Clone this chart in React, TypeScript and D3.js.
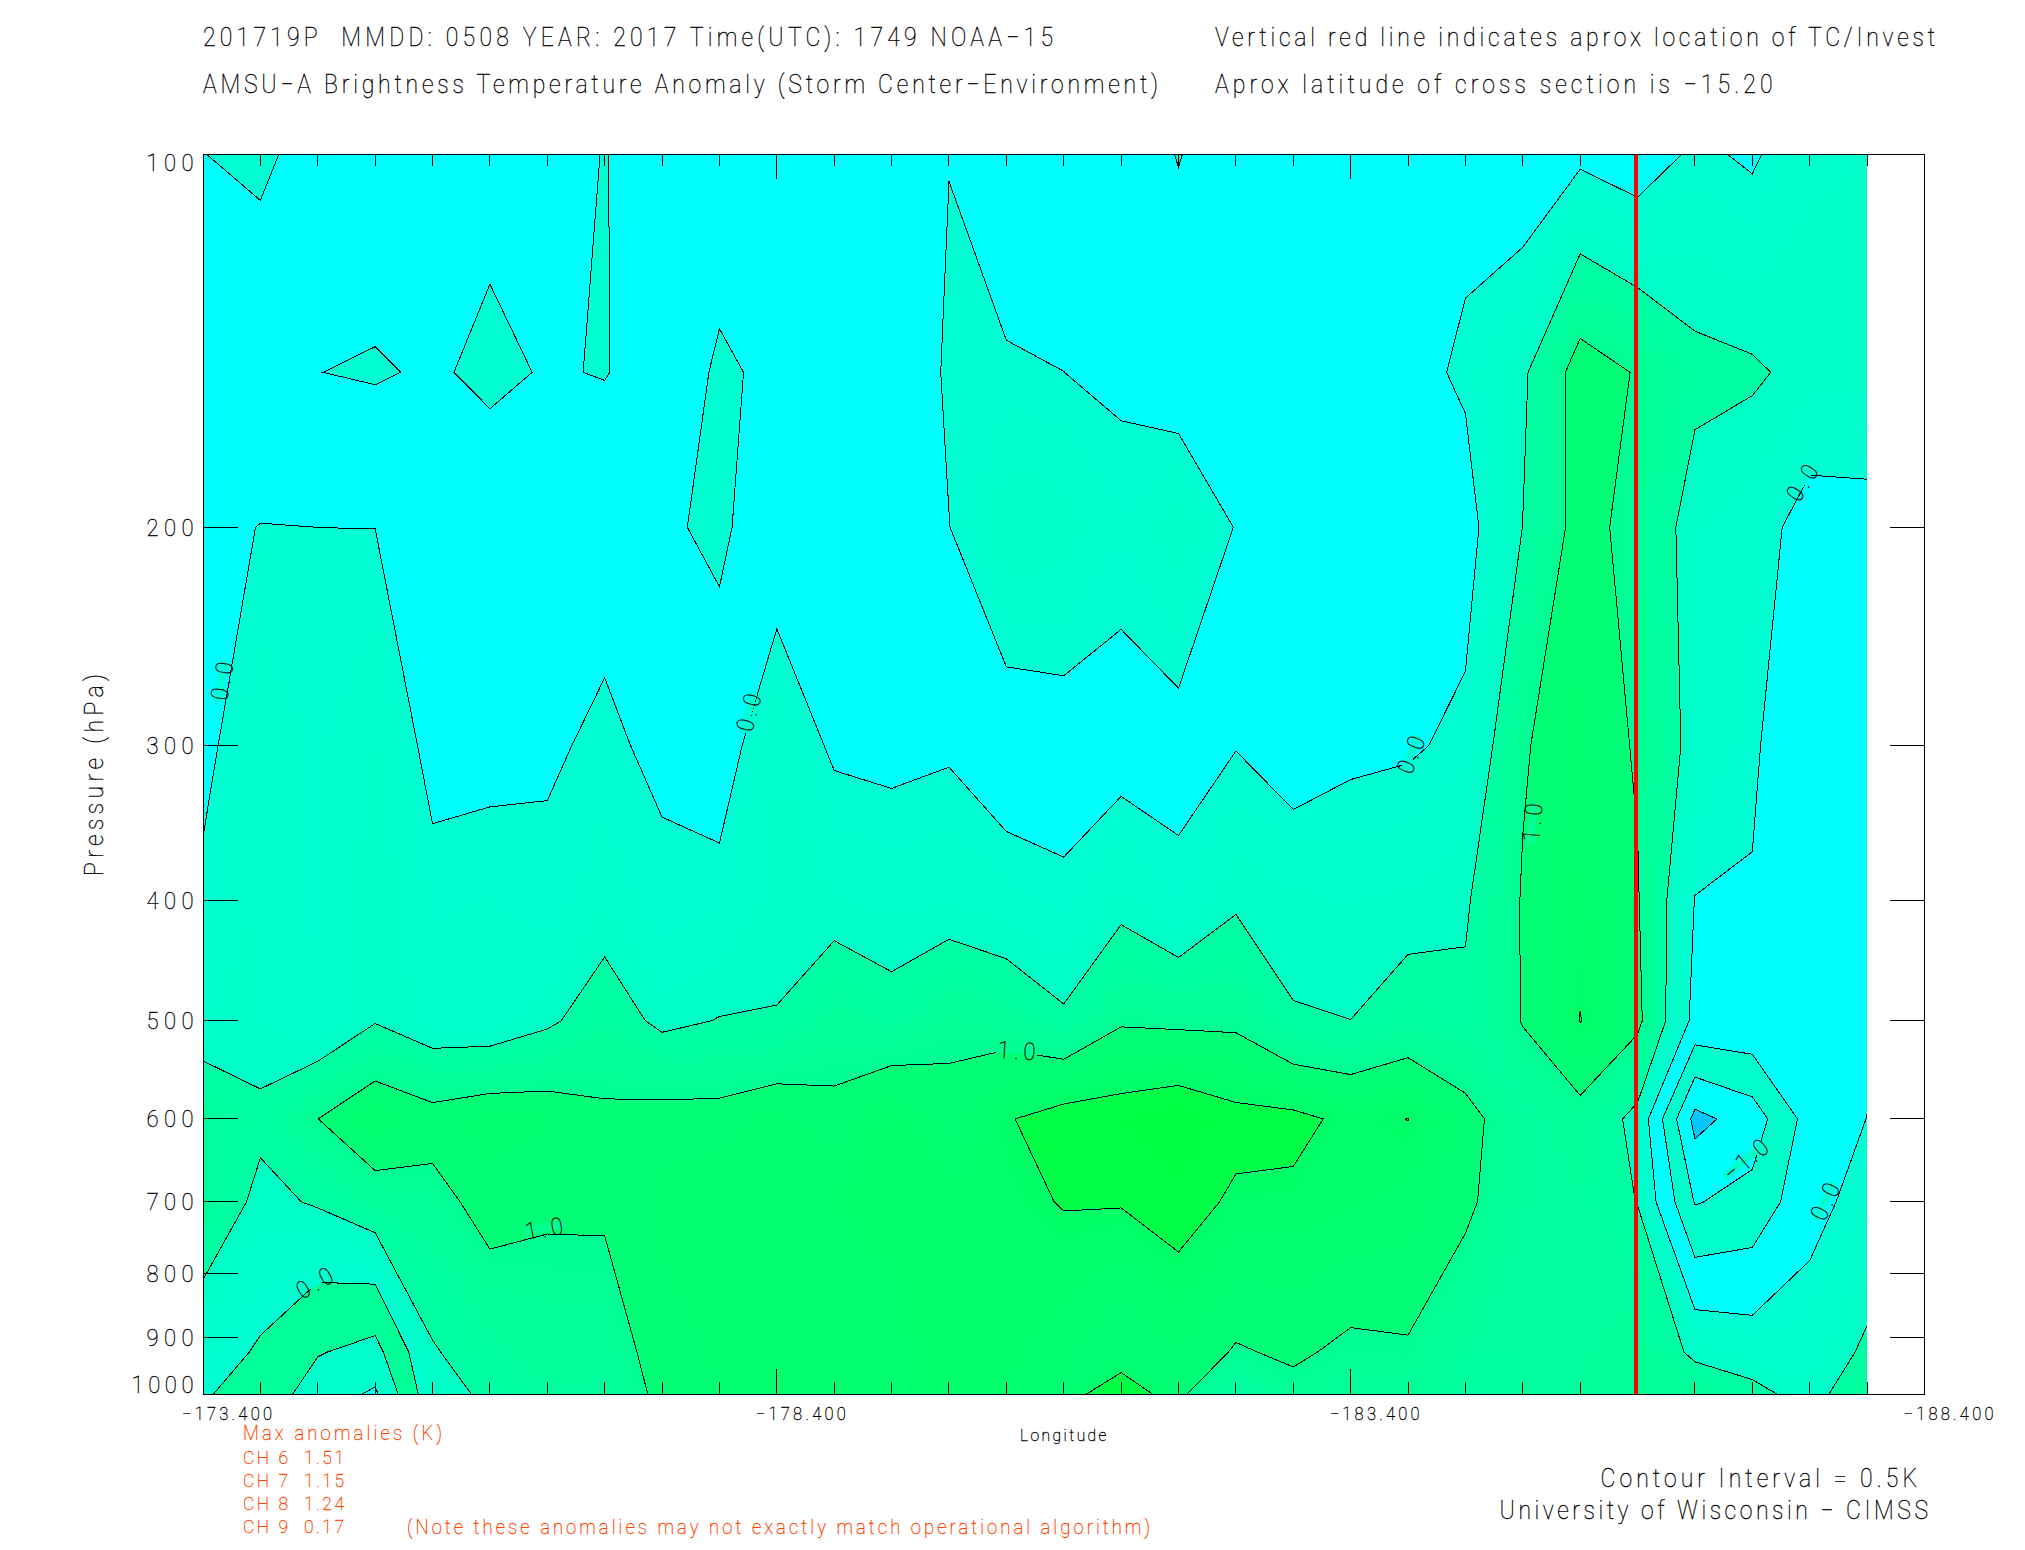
import React from "react";
import * as d3 from "d3";

// ---------- data ----------
const lonStart = -173.4;
const lonEnd = -188.4;
const lonStep = 0.5;
const stormLon = -185.89;
const pressureLevels = [100, 150, 200, 300, 400, 500, 600, 700, 925, 1000];
const pressureTicks = [200, 300, 400, 500, 600, 700, 800, 900];
const pressureLabels = [100, 200, 300, 400, 500, 600, 700, 800, 900, 1000];
const lonLabels = [-173.4, -178.4, -183.4, -188.4];
const contourLevels = [-1.5, -1, -0.5, 0, 0.5, 1, 1.5];

const a100 = [-0.006, 0.1, -0.21, -0.0015, -0.2, -0.00062, -0.23, 0.02, -0.27, -0.00084, -0.2, -0.2, -0.2, -0.0115, -0.29, -0.2, -0.254, 0.02, -0.27, -0.2, -0.2, -0.2, -0.109, -0.32, -0.09, -0.24, 0.07, -0.055, 0.275, 0.3];
const a150 = [0.003, -0.37, -0.00002, 0.0002, -0.00025, 0.00042, -0.00015, 0.00009, -0.00093, 0.00021, -0.00029, -0.1, -0.476, 0.08, 0.05, 0.001, -0.075, -0.31, -0.2, -0.2, -0.2, -0.115, 0.056, 0.43, 1.2, 0.97, 0.6, 0.55, 0.394, 0.4];
const a200 = [-0.108, 0.01, -0.0002, -0.0023, -0.15, -0.00137, -0.1, -0.00164, -0.059, 0.075, -0.266, -0.2, -0.2, -0.0089, 0.48, 0.425, 0.165, 0.476, -0.022, -0.2, -0.2, -0.2, -0.155, 0.505, 1.169, 0.84, 0.33, 0.217, -0.2, -0.18];
const a300 = [-0.1, 0.28, 0.12, 0.35, -0.124, -0.1, -0.00055, 0.00074, -0.0009, -0.2, 0.306, -0.065, -0.1, -0.05, -0.271, -0.2, -0.188, -0.17, -0.016, -0.265, -0.084, -0.045, 0.08, 0.96, 1.25, 0.96, 0.35, 0.05, -0.3, -0.2];
const a400 = [0.07, 0.33, 0.1, 0.45, 0.122, 0.153, 0.001, 0.315, 0.00105, 0.118, 0.4, 0.339, 0.262, 0.31, 0.218, 0.078, 0.386, 0.123, 0.446, 0.378, 0.3, 0.342, 0.45, 1.03, 1.39, 1.03, -0.012, -0.023, -0.25, -0.2];
const a500 = [0.3, 0.3, 0.15, 0.476, 0.246, 0.23, 0.433, 0.709, 0.414, 0.514, 0.515, 0.821, 0.664, 0.9, 0.8, 0.568, 0.954, 0.92, 0.914, 0.525, 0.502, 0.695, 0.58, 1.02, 1.51, 1.1, -0.125, -0.106, -0.2, -0.1];
const a600 = [0.788, 0.588, 0.997, 1.33, 1.15, 1.27, 1.225, 1.075, 1.14, 1.13, 1.27, 1.09, 1.4, 1.13, 1.47, 1.667, 1.69, 1.8, 1.618, 1.598, 1.41, 1.505, 1.149, 0.7, 0.84, 0.38, -1.65, -1.258, -0.295, 0.006];
const a700 = [0.813, 0.4, 0.54, 0.8, 0.87, 1.14, 1.05, 1.05, 1.25, 1.3, 1.35, 1.35, 1.38, 1.4, 1.42, 1.516, 1.52, 1.65, 1.44, 1.427, 1.35, 1.3, 1.08, 0.7, 0.75, 0.49, -1.03, -0.835, -0.153, 0.18];
const a925 = [0.209, -0.05, -0.467, -0.66, 0.468, 0.695, 0.816, 0.829, 1.133, 1.22, 1.31, 1.31, 1.32, 1.4, 1.365, 1.25, 1.02, 1.2, 0.97, 1.05, 0.932, 0.962, 0.697, 0.7, 0.72, 0.9, 0.405, 0.27, 0.239, 0.569];
const a1000 = [0.04, -0.177, -0.75, -1.07, 0.355, 0.57, 0.75, 0.7, 1.1, 1.2, 1.3, 1.3, 1.3, 1.4, 1.35, 1.17, 2.0, 1.08, 0.55, 0.91, 0.85, 0.85, 0.62, 0.7, 0.72, 0.9, 0.81, 0.62, 0.338, 0.82];
const anomalyRows = [a100, a150, a200, a300, a400, a500, a600, a700, a925, a1000];

// contour labels: lon, pressure, text, rotation
const labelLon = [-173.56, -178.15, -183.92, -184.98, -187.33, -180.49, -176.37, -174.37, -186.84, -187.53];
const labelP = [266, 282, 305, 346, 184, 528, 735, 813, 647, 699];
const labelText = ["0.0", "0.0", "0.0", "1.0", "0.0", "1.0", "1.0", "0.0", "−1.0", "0.0"];
const labelAngle = [-80, -75, -68, -85, -57, 3, -10, -30, -40, -65];
const labelTone = [0.02, 0.02, 0.02, 0.9, 0.02, 0.95, 0.95, 0.02, -0.7, 0.02];

const maxAnomalyLines = ["CH 6  1.51", "CH 7  1.15", "CH 8  1.24", "CH 9  0.17"];

// ---------- colours ----------
const positive = (v: number) => {
  let b;
  if (v < 0.5) b = 212 - 30 * v;
  else if (v < 1) b = 165 - 40 * (v - 0.5);
  else if (v < 1.5) b = 120 - 35 * (v - 1);
  else b = 72 - 30 * (v - 1.5);
  return `rgb(0,255,${Math.round(Math.max(40, b))})`;
};
const mainColour = (v: number) => {
  if (v < -1.5) return "rgb(0,200,255)";
  if (v < -1) return "rgb(0,255,255)";
  if (v < -0.5) return "rgb(0,255,205)";
  if (v < 0) return "rgb(0,255,255)";
  return positive(v);
};
const cornerColour = (v: number) => {
  if (v < -1) return "rgb(0,255,255)";
  if (v < -0.5) return "rgb(0,255,205)";
  if (v < 0) return "rgb(0,255,150)";
  return positive(v);
};

// ---------- scales ----------
const W = 2025;
const H = 1550;
const left = 203;
const right = 1924.5;
const top = 154;
const bottom = 1394;

const lonScale = d3.scaleLinear().domain([lonStart, lonEnd]).range([left, right]);
const pScale = d3.scaleLog().domain([100, 1000]).range([top, bottom]);
const nx = a100.length;
const ny = anomalyRows.length;
const colX = (i: number) => lonScale(lonStart - lonStep * i);
const rowY = d3.scaleLinear().domain(pressureLevels.map((_, i) => i)).range(pressureLevels.map((p) => pScale(p)));

const values = anomalyRows.flat();
const contourGen = d3.contours().size([nx, ny]).smooth(true);
const toPath = (t: number) => {
  const mp = contourGen.contour(values, t);
  return mp.coordinates
    .map((poly: number[][][]) =>
      poly
        .map((ring) => "M" + ring.map(([gx, gy]) => `${colX(gx - 0.5).toFixed(2)},${rowY(gy - 0.5).toFixed(2)}`).join("L") + "Z")
        .join("")
    )
    .join("");
};
const bandSteps = d3.range(-40, 45).map((k) => k / 20);

const FONT = "Roboto, 'Liberation Sans', sans-serif";
const NARROW = 0.92;

function T(props: any) {
  const { x, y, w, size, fill = "#000", children } = props;
  return (
    <text
      transform={`translate(${x},${y}) scale(${NARROW},1)`}
      textLength={w / NARROW}
      lengthAdjust="spacing"
      fontSize={size}
      fontFamily={FONT}
      fontWeight={100}
      fill={fill}
      stroke={fill}
      strokeWidth={0.35}
      style={{ whiteSpace: "pre" }}
    >
      {children}
    </text>
  );
}

export default function App() {
  const clipRight = colX(nx - 1);
  const cornerX0 = colX(0);
  const cornerX1 = colX(4.5);
  const cornerY0 = pScale(700);
  return (
    <svg width={W} height={H} viewBox={`0 0 ${W} ${H}`} style={{ position: "absolute", left: 0, top: 0, background: "#fff" }}>
      <defs>
        <clipPath id="field">
          <rect x={left} y={top} width={clipRight - left} height={bottom - top} />
        </clipPath>
        <clipPath id="corner">
          <rect x={cornerX0} y={cornerY0} width={cornerX1 - cornerX0} height={bottom - cornerY0} />
        </clipPath>
      </defs>

      <g clipPath="url(#field)" shapeRendering="crispEdges">
        <rect x={left} y={top} width={clipRight - left} height={bottom - top} fill={mainColour(-2)} />
        {bandSteps.map((t) => (
          <path key={t} d={toPath(t)} fill={mainColour(t + 0.025)} />
        ))}
      </g>
      <g clipPath="url(#corner)" shapeRendering="crispEdges">
        {bandSteps.map((t) => (
          <path key={t} d={toPath(t)} fill={cornerColour(t + 0.025)} />
        ))}
      </g>
      <g clipPath="url(#field)" shapeRendering="crispEdges">
        {contourLevels.map((t) => (
          <path key={t} d={toPath(t)} fill="none" stroke="#000" strokeWidth={1} />
        ))}
      </g>

      {/* contour labels */}
      {labelText.map((s, i) => {
        const px = lonScale(labelLon[i]);
        const py = pScale(labelP[i]);
        const w = s.length > 3 ? 50 : 38;
        return (
          <g key={i} transform={`translate(${px},${py}) rotate(${labelAngle[i]})`}>
            <rect x={-w / 2 - 2} y={-4} width={w + 4} height={8} fill={mainColour(labelTone[i])} shapeRendering="crispEdges" />
            <T x={-w / 2} y={9} w={w} size={24}>
              {s}
            </T>
          </g>
        );
      })}

      {/* ticks */}
      <g stroke="#000" strokeWidth={1} shapeRendering="crispEdges">
        {d3.range(1, 30).map((i) => {
          const len = i % 10 === 0 ? 25 : 12;
          return (
            <g key={i}>
              <line x1={colX(i)} x2={colX(i)} y1={top} y2={top + len} />
              <line x1={colX(i)} x2={colX(i)} y1={bottom} y2={bottom - len} />
            </g>
          );
        })}
        {pressureTicks.map((p) => (
          <g key={p}>
            <line x1={left} x2={left + 35} y1={pScale(p)} y2={pScale(p)} />
            <line x1={right} x2={right - 35} y1={pScale(p)} y2={pScale(p)} />
          </g>
        ))}
      </g>

      {/* storm location */}
      <line x1={lonScale(stormLon)} x2={lonScale(stormLon)} y1={top + 1} y2={bottom} stroke="#ff0000" strokeWidth={4} shapeRendering="crispEdges" />

      <rect x={left} y={top} width={right - left} height={bottom - top} fill="none" stroke="#000" strokeWidth={1} shapeRendering="crispEdges" />

      {/* axis labels */}
      {pressureLabels.map((p) => {
        const yy = p === 100 ? 171 : p === 1000 ? 1393 : pScale(p) + 8.5;
        return (
          <T key={p} x={193.5 - (p === 1000 ? 62 : 47)} y={yy} w={p === 1000 ? 62 : 47} size={24}>
            {String(p)}
          </T>
        );
      })}
      {lonLabels.map((l) => (
        <T key={l} x={lonScale(l) - 21} y={1420} w={90} size={18}>
          {"−" + Math.abs(l).toFixed(3)}
        </T>
      ))}
      <T x={1020} y={1441} w={86.5} size={17}>Longitude</T>
      <g transform="translate(103,876) rotate(-90)">
        <T x={0} y={0} w={202} size={25}>Pressure (hPa)</T>
      </g>

      {/* titles */}
      <T x={203} y={46} w={850} size={25}>{"201719P  MMDD: 0508 YEAR: 2017 Time(UTC): 1749 NOAA−15"}</T>
      <T x={203} y={93} w={955} size={25}>AMSU−A Brightness Temperature Anomaly (Storm Center−Environment)</T>
      <T x={1215} y={46} w={720} size={25}>Vertical red line indicates aprox location of TC/Invest</T>
      <T x={1215} y={93} w={557.5} size={25}>Aprox latitude of cross section is −15.20</T>

      {/* max anomalies */}
      <T x={243} y={1440} w={199} size={20} fill="#ff4500">Max anomalies (K)</T>
      {maxAnomalyLines.map((s, i) => (
        <T key={s} x={243} y={1463.5 + i * 23.3} w={101} size={19} fill="#ff4500">{s}</T>
      ))}
      <T x={407} y={1533.5} w={743} size={20} fill="#ff4500">(Note these anomalies may not exactly match operational algorithm)</T>

      <T x={1600.5} y={1486.5} w={316.5} size={25}>Contour Interval = 0.5K</T>
      <T x={1499.6} y={1518.5} w={428.4} size={25}>University of Wisconsin − CIMSS</T>
    </svg>
  );
}
